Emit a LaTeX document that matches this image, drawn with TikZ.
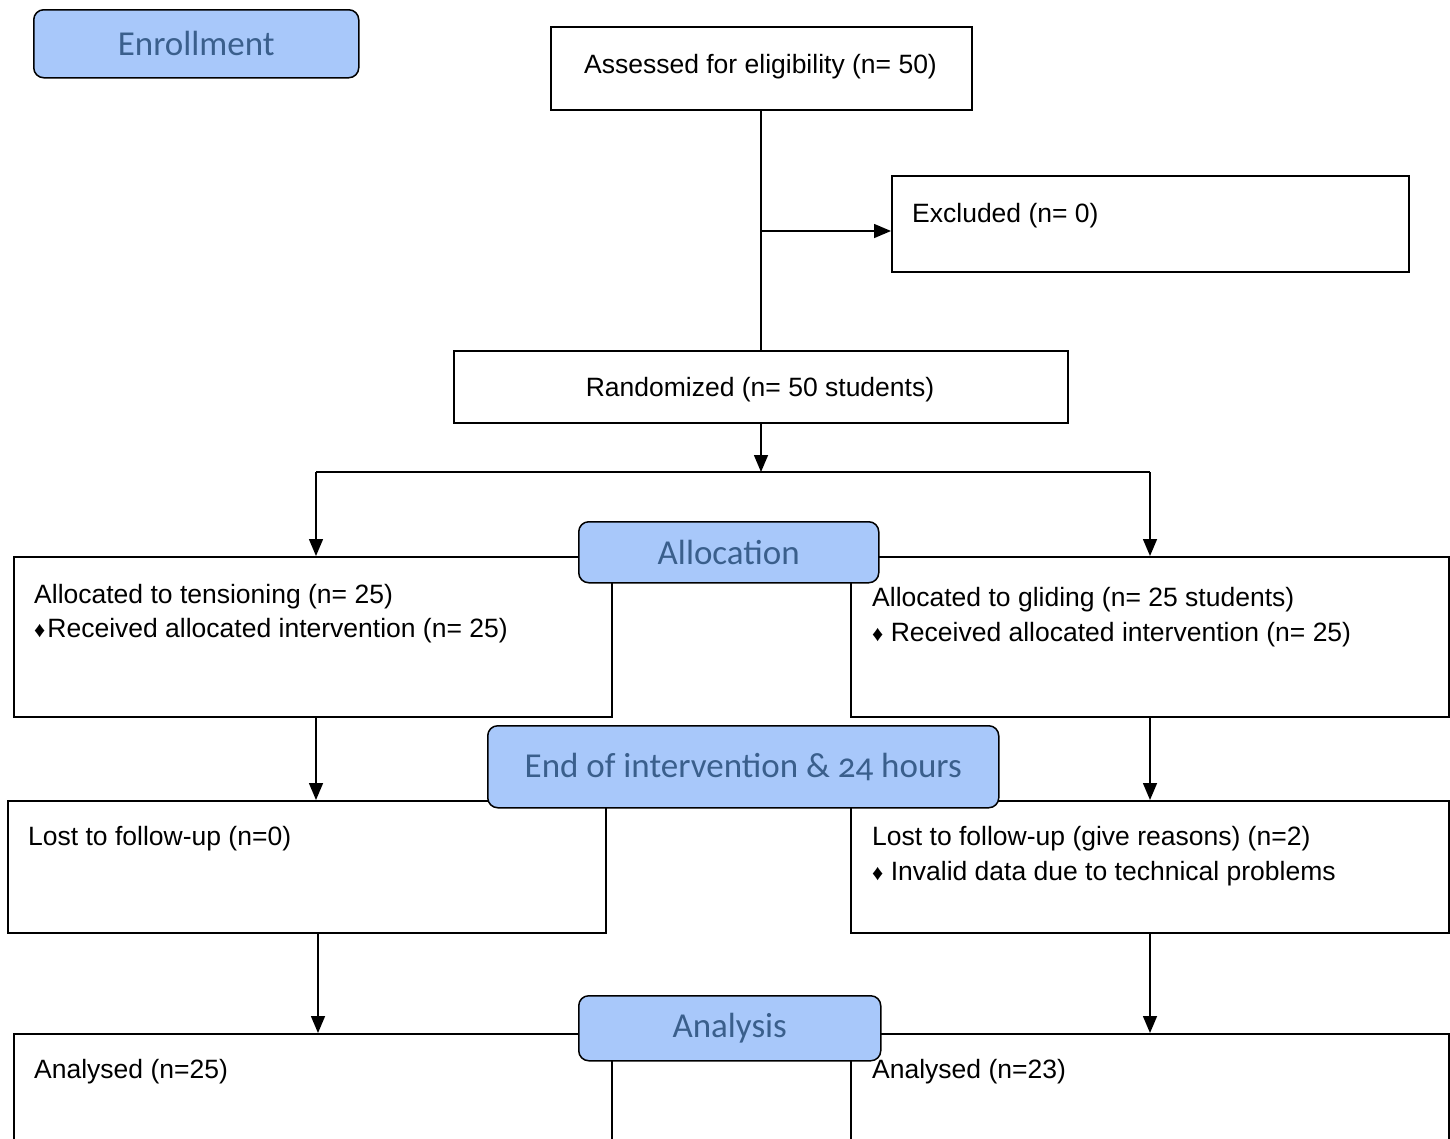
\documentclass[tikz,border=0pt]{standalone}
\usepackage{fontspec}
\setmainfont{Liberation Sans}
\newfontfamily\stagefamily[Numbers=OldStyle]{Carlito}
\usetikzlibrary{arrows.meta}
\definecolor{stagefill}{RGB}{168,200,250}
\definecolor{stagetext}{RGB}{58,95,140}
\newcommand{\bodyfont}{\fontsize{26.5}{32}\selectfont}
\newcommand{\dia}{{\fontsize{22}{22}\selectfont ♦}}
\tikzset{
  box/.style={draw, line width=1.5pt, fill=white, inner sep=0pt, anchor=north west},
  stage/.style={draw, line width=1.5pt, fill=stagefill, rounded corners=10pt, inner sep=0pt,
    anchor=north west, text=stagetext, font=\stagefamily\fontsize{35}{40}\selectfont},
  txt/.style={inner sep=0pt, font=\bodyfont, anchor=base west},
  ctxt/.style={inner sep=0pt, font=\bodyfont, anchor=base},
  conn/.style={line width=1.5pt},
  arr/.style={line width=1.5pt, -{Triangle[length=17pt,width=14pt]}}
}
\begin{document}
\begin{tikzpicture}[x=1pt,y=-1pt]
\useasboundingbox (0,0) rectangle (1450,1138);
% white boxes
\node[box, minimum width=421pt, minimum height=83pt] (assess) at (550,26) {};
\node[box, minimum width=517pt, minimum height=96pt] (excl) at (891,175) {};
\node[box, minimum width=614pt, minimum height=72pt] (rand) at (453,350) {};
\node[box, minimum width=598pt, minimum height=160pt] (allocL) at (13,556) {};
\node[box, minimum width=598pt, minimum height=160pt] (allocR) at (850,556) {};
\node[box, minimum width=598pt, minimum height=132pt] (lostL) at (7,800) {};
\node[box, minimum width=598pt, minimum height=132pt] (lostR) at (850,800) {};
\node[box, minimum width=598pt, minimum height=125pt] (anaL) at (13,1033) {};
\node[box, minimum width=598pt, minimum height=125pt] (anaR) at (850,1033) {};
% texts
\node[ctxt] (tassess) at (760.5,73) {Assessed for eligibility (n= 50)};
\node[txt] (texcl) at (912,222) {Excluded (n= 0)};
\node[ctxt] (trand) at (760,396) {Randomized (n= 50 students)};
\node[txt] (tallocL1) at (34,603) {Allocated to tensioning (n= 25)};
\node[txt] (tallocL2) at (34,637) {\dia\kern2pt Received allocated intervention (n= 25)};
\node[txt] (tallocR1) at (872,606) {Allocated to gliding (n= 25 students)};
\node[txt] (tallocR2) at (872,641) {\dia\ Received allocated intervention (n= 25)};
\node[txt] (tlostL) at (28,845) {Lost to follow-up (n=0)};
\node[txt] (tlostR1) at (872,845) {Lost to follow-up (give reasons) (n=2)};
\node[txt] (tlostR2) at (872,880) {\dia\ Invalid data due to technical problems};
\node[txt] (tanaL) at (34,1078) {Analysed (n=25)};
\node[txt] (tanaR) at (872,1078) {Analysed (n=23)};
% connectors
\coordinate (jx) at (761,231);
\coordinate (split) at (761,472);
\coordinate (sl) at (316,472);
\coordinate (sr) at (1150,472);
\coordinate (ll) at (318,932);
\draw[conn] (assess.south -| jx) -- (rand.north -| jx);
\draw[arr] (jx) -- (jx -| excl.west);
\draw[arr] (rand.south -| split) -- (split);
\draw[conn] (sl) -- (sr);
\draw[arr] (sl) -- (sl |- allocL.north);
\draw[arr] (sr) -- (sr |- allocR.north);
\draw[arr] (allocL.south -| sl) -- (lostL.north -| sl);
\draw[arr] (allocR.south -| sr) -- (lostR.north -| sr);
\draw[arr] (ll) -- (anaL.north -| ll);
\draw[arr] (lostR.south -| sr) -- (anaR.north -| sr);
% stage labels
\node[stage, minimum width=325pt, minimum height=68pt] (enrol) at (33,9) {Enrollment};
\node[stage, minimum width=300pt, minimum height=61pt] (allocation) at (578,521) {\raisebox{-3pt}{Allocation}};
\node[stage, minimum width=511pt, minimum height=82pt] (endint) at (487,725) {\raisebox{3pt}{End of intervention \& 24 hours}};
\node[stage, minimum width=302pt, minimum height=65pt] (analysis) at (578,995) {Analysis};
\end{tikzpicture}
\end{document}
